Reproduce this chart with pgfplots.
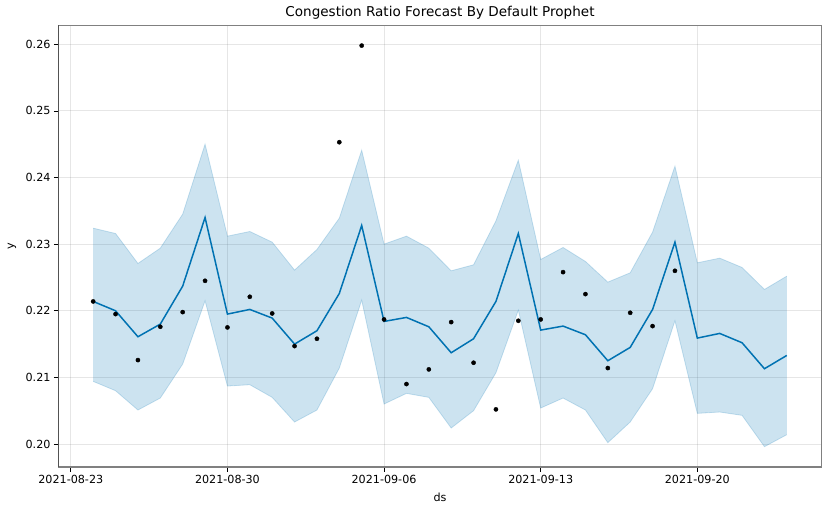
\documentclass[border=0pt]{standalone}
\usepackage{pgfplots}
\usepackage{pgfplotstable}
\pgfplotsset{compat=1.18}
\usepgfplotslibrary{fillbetween}
\usepackage{fontspec}
\setmainfont{DejaVu Sans}
\definecolor{fc}{HTML}{0072B2}

% forecast: day since 2021-08-23, yhat, lower, upper
\pgfplotstableread{
d yhat lo hi
1 0.2214 0.2094 0.2324
2 0.2200 0.2080 0.2316
3 0.2161 0.2051 0.2271
4 0.2180 0.2069 0.2294
5 0.2237 0.2120 0.2345
6 0.2340 0.2215 0.2450
7 0.2195 0.2087 0.2312
8 0.2202 0.2089 0.2319
9 0.2189 0.2070 0.2303
10 0.2150 0.2033 0.2261
11 0.2170 0.2051 0.2292
12 0.2226 0.2114 0.2339
13 0.2328 0.2216 0.2441
14 0.2184 0.2060 0.2300
15 0.2190 0.2076 0.2312
16 0.2176 0.2070 0.2294
17 0.2137 0.2024 0.2260
18 0.2158 0.2050 0.2269
19 0.2214 0.2107 0.2335
20 0.2316 0.2201 0.2426
21 0.2171 0.2054 0.2277
22 0.2177 0.2069 0.2295
23 0.2164 0.2051 0.2274
24 0.2125 0.2002 0.2243
25 0.2145 0.2033 0.2257
26 0.2202 0.2083 0.2318
27 0.2303 0.2185 0.2417
28 0.2159 0.2046 0.2272
29 0.2166 0.2048 0.2279
30 0.2152 0.2043 0.2265
31 0.2113 0.1996 0.2232
32 0.2133 0.2014 0.2252
}\fcst

% observed
\pgfplotstableread{
d y
1 0.2214
2 0.2195
3 0.2126
4 0.2176
5 0.2198
6 0.2245
7 0.2175
8 0.2221
9 0.2196
10 0.2147
11 0.2158
12 0.2453
13 0.2598
14 0.2187
15 0.2090
16 0.2112
17 0.2183
18 0.2122
19 0.2052
20 0.2185
21 0.2187
22 0.2258
23 0.2225
24 0.2114
25 0.2197
26 0.2177
27 0.2260
}\obs

\begin{document}
\begin{tikzpicture}
\begin{axis}[
  scale only axis,
  width=763bp, height=441.7bp,
  xmin=-0.55, xmax=33.55,
  ymin=0.19655, ymax=0.26285,
  xtick={0,7,14,21,28},
  xticklabels={2021-08-23,2021-08-30,2021-09-06,2021-09-13,2021-09-20},
  ytick={0.20,0.21,0.22,0.23,0.24,0.25,0.26},
  yticklabel style={/pgf/number format/.cd,fixed,fixed zerofill,precision=2},
  /pgf/number format/assume math mode=true,
  ticklabel style={font=\fontsize{11.2}{13}\selectfont},
  tick align=outside, tick pos=left,
  major tick length=4.5bp,
  every tick/.style={black, line width=0.8bp},
  grid=major,
  major grid style={gray, opacity=0.2, line width=1bp},
  axis line style={gray, line width=1.4bp},
  xlabel={ds}, ylabel={y},
  label style={font=\fontsize{11.2}{13}\selectfont},
  xlabel style={at={(axis description cs:0.5,0)}, anchor=center, yshift=-30bp},
  ylabel style={at={(axis description cs:0,0.5)}, anchor=center, rotate=0, yshift=46.5bp},
  every axis title shift=0pt,
  title={Congestion Ratio Forecast By Default Prophet},
  title style={font=\fontsize{13.6}{15}\selectfont, at={(axis description cs:0.5,1)}, anchor=center, yshift=12.5bp},
]
\addplot[name path=hi, fc, draw opacity=0.2, line width=0.8bp] table[x=d, y=hi] {\fcst};
\addplot[name path=lo, fc, draw opacity=0.2, line width=0.8bp] table[x=d, y=lo] {\fcst};
\addplot[fc, fill opacity=0.2, draw=none] fill between[of=hi and lo];
\addplot[fc, line width=1.5bp] table[x=d, y=yhat] {\fcst};
\addplot[only marks, mark=*, mark size=2.1bp, black] table[x=d, y=y] {\obs};
\draw[black, line width=1bp] (rel axis cs:0,0) -- (rel axis cs:0,1);
\end{axis}
\pgfresetboundingbox
\path[use as bounding box] (-58.5bp,-45bp) rectangle (771.5bp,467bp);
\end{tikzpicture}
\end{document}
